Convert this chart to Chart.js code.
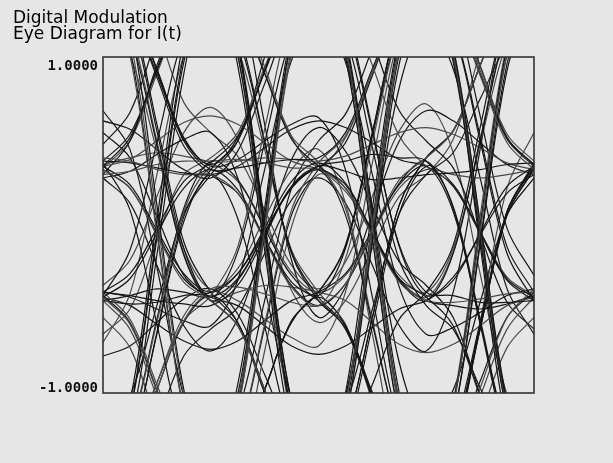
<!DOCTYPE html>
<html>
<head>
<meta charset="utf-8">
<script src="https://cdn.jsdelivr.net/npm/chart.js@4/dist/chart.umd.min.js"></script>
<style>
  html, body { margin: 0; padding: 0; background: #e6e6e6; }
  #wrap { width: 613px; height: 463px; }
</style>
</head>
<body>
<div id="wrap"><canvas id="c" width="613" height="463"></canvas></div>
<script>
// Time axis in symbol periods (quarter-symbol samples)
const symbolTime = [0,0.25,0.5,0.75,1,1.25,1.5,1.75,2,2.25,2.5,2.75,3,3.25,3.5,3.75,4];
const yTickValues = [1, -1];
const titleLines = ['Digital Modulation', 'Eye Diagram for I(t)'];

// I(t) traces
const tr01 = [1.45,1.01,-0.05,-1.11,-1.55,-1.10,-0.03,1.05,1.50,1.06,0.00,-1.06,-1.50,-1.07,-0.03,1.02,1.45];
const tr02 = [-1.50,-1.05,0.03,1.10,1.55,1.09,-0.03,-1.14,-1.60,-1.16,-0.10,0.96,1.40,0.97,-0.08,-1.12,-1.55];
const tr03 = [1.50,1.49,1.48,1.46,1.45,1.01,-0.05,-1.11,-1.55,-1.27,-0.60,0.07,0.35,0.24,-0.04,-0.32,-0.43];
const tr04 = [0.33,0.22,-0.06,-0.34,-0.45,-0.60,-0.98,-1.35,-1.50,-1.06,0.00,1.06,1.50,1.49,1.45,1.41,1.40];
const tr05 = [-0.40,-0.29,-0.02,0.26,0.37,0.53,0.91,1.29,1.45,1.00,-0.08,-1.15,-1.60,-1.59,-1.55,-1.51,-1.50];
const tr06 = [-1.55,-1.54,-1.50,-1.46,-1.45,-1.01,0.05,1.11,1.55,1.26,0.57,-0.13,-0.42,-0.31,-0.06,0.19,0.30];
const tr07 = [0.40,0.38,0.33,0.30,0.30,0.19,-0.09,-0.37,-0.48,-0.20,0.49,1.17,1.45,1.01,-0.05,-1.11,-1.55];
const tr08 = [1.40,1.13,0.48,-0.18,-0.45,-0.33,-0.05,0.23,0.35,0.38,0.42,0.40,0.38,0.11,-0.56,-1.23,-1.50];
const tr09 = [-1.60,-1.32,-0.64,0.05,0.33,0.50,0.92,1.33,1.50,1.22,0.55,-0.12,-0.40,-0.42,-0.46,-0.46,-0.45];
const tr10 = [-0.43,-0.59,-0.99,-1.39,-1.55,-1.27,-0.59,0.09,0.37,0.53,0.91,1.29,1.45,1.29,0.89,0.49,0.33];
const tr11 = [0.35,0.52,0.93,1.33,1.50,1.06,0.00,-1.06,-1.50,-1.34,-0.95,-0.56,-0.40,-0.12,0.58,1.27,1.55];
const tr12 = [1.45,1.28,0.88,0.47,0.30,0.19,-0.08,-0.34,-0.45,-0.62,-1.03,-1.43,-1.60,-1.16,-0.10,0.96,1.40];
const tr13 = [-1.50,-1.34,-0.94,-0.54,-0.38,-0.37,-0.41,-0.46,-0.48,-0.35,-0.04,0.27,0.40,0.56,0.95,1.34,1.50];
const tr14 = [-0.42,-0.15,0.49,1.13,1.40,1.42,1.48,1.53,1.55,1.10,0.03,-1.05,-1.50,-1.23,-0.58,0.08,0.35];
const tr15 = [0.37,0.09,-0.59,-1.27,-1.55,-1.38,-0.98,-0.57,-0.40,-0.13,0.53,1.18,1.45,1.17,0.50,-0.17,-0.45];
const tr16 = [1.55,1.11,0.05,-1.01,-1.45,-1.47,-1.53,-1.58,-1.60,-1.15,-0.05,1.05,1.50,1.34,0.94,0.54,0.38];
const tr17 = [-0.45,-0.47,-0.46,-0.42,-0.40,-0.29,-0.04,0.22,0.33,0.06,-0.59,-1.23,-1.50,-1.07,-0.03,1.02,1.45];
const tr18 = [-1.55,-1.11,-0.05,1.01,1.45,1.29,0.90,0.51,0.35,0.24,-0.04,-0.32,-0.43,-0.60,-1.02,-1.43,-1.60];
const tr19 = [0.30,0.32,0.36,0.38,0.38,0.39,0.37,0.34,0.33,0.22,-0.06,-0.34,-0.45,-0.46,-0.44,-0.41,-0.40];
const tr20 = [-0.40,-0.42,-0.45,-0.47,-0.48,-0.36,-0.07,0.23,0.35,0.32,0.27,0.28,0.30,0.31,0.33,0.36,0.37];
const tr21 = [1.50,1.33,0.92,0.50,0.33,0.34,0.37,0.39,0.40,0.55,0.93,1.30,1.45,1.02,-0.03,-1.07,-1.50];
const tr22 = [-1.45,-1.30,-0.94,-0.57,-0.42,-0.13,0.57,1.26,1.55,1.10,0.00,-1.10,-1.55,-1.38,-0.97,-0.55,-0.38];
const tr23 = [0.35,0.24,-0.03,-0.29,-0.40,-0.29,-0.02,0.26,0.37,0.25,-0.04,-0.33,-0.45,-0.17,0.50,1.17,1.45];
const tr24 = [-0.43,-0.32,-0.05,0.22,0.33,0.21,-0.08,-0.36,-0.48,-0.35,-0.05,0.25,0.38,0.10,-0.59,-1.27,-1.55];
const tr25 = [1.45,1.46,1.48,1.49,1.50,1.34,0.94,0.53,0.37,0.10,-0.57,-1.23,-1.50,-1.51,-1.53,-1.54,-1.55];
const tr26 = [-1.50,-1.51,-1.53,-1.54,-1.55,-1.38,-0.98,-0.57,-0.40,-0.12,0.55,1.22,1.50,1.49,1.48,1.46,1.45];
const tr27 = [0.38,0.54,0.92,1.29,1.45,1.17,0.50,-0.17,-0.45,-0.61,-1.00,-1.39,-1.55,-1.28,-0.61,0.06,0.33];
const tr28 = [-0.40,-0.56,-0.95,-1.34,-1.50,-1.05,0.03,1.10,1.55,1.37,0.95,0.53,0.35,0.24,-0.04,-0.31,-0.42];
const tr29 = [1.55,1.26,0.56,-0.14,-0.43,-0.16,0.49,1.13,1.40,1.13,0.46,-0.21,-0.48,-0.62,-0.97,-1.31,-1.45];
const tr30 = [-1.60,-1.32,-0.65,0.02,0.30,0.04,-0.60,-1.24,-1.50,-1.22,-0.55,0.12,0.40,0.56,0.95,1.34,1.50];
const tr31 = [0.35,0.39,0.50,0.61,0.65,0.60,0.49,0.38,0.33,0.22,-0.05,-0.32,-0.43,-0.16,0.51,1.18,1.45];
const tr32 = [-0.43,-0.48,-0.59,-0.69,-0.74,-0.69,-0.57,-0.45,-0.40,-0.29,-0.03,0.24,0.35,0.08,-0.58,-1.23,-1.50];
const tr33 = [0.38,0.37,0.34,0.31,0.30,0.35,0.46,0.57,0.62,0.58,0.49,0.39,0.35,0.23,-0.05,-0.33,-0.45];
const tr34 = [1.45,1.17,0.50,-0.17,-0.45,-0.40,-0.36,-0.37,-0.40,-0.45,-0.58,-0.71,-0.76,-0.71,-0.60,-0.48,-0.43];
const tr35 = [1.50,1.05,-0.03,-1.10,-1.55,-1.28,-0.61,0.06,0.33,0.49,0.89,1.29,1.45,1.18,0.53,-0.13,-0.40];
const tr36 = [-1.55,-1.12,-0.08,0.97,1.40,1.13,0.49,-0.16,-0.43,-0.60,-1.02,-1.43,-1.60,-1.31,-0.62,0.08,0.37];
const tr37 = [-1.50,-1.23,-0.58,0.08,0.35,0.38,0.40,0.39,0.38,0.41,0.48,0.55,0.58,0.54,0.46,0.37,0.33];
const tr38 = [0.33,0.22,-0.05,-0.32,-0.43,-0.48,-0.60,-0.72,-0.77,-0.72,-0.61,-0.50,-0.45,-0.33,-0.05,0.23,0.35];
const tr39 = [1.45,1.29,0.90,0.51,0.35,0.39,0.50,0.60,0.64,0.33,-0.43,-1.19,-1.50,-1.06,0.00,1.06,1.50];
const tr40 = [-1.55,-1.38,-0.98,-0.57,-0.40,-0.45,-0.56,-0.67,-0.72,-0.40,0.37,1.13,1.45,1.01,-0.05,-1.11,-1.55];
const tr41 = [1.60,1.20,0.12,-0.98,-1.45,-0.95,0.10,1.15,1.55,1.12,0.08,-1.00,-1.50,-1.15,-0.12,0.92,1.40];
const tr42 = [-1.45,-1.20,-0.18,0.90,1.50,0.95,-0.15,-1.22,-1.55,-1.00,0.10,1.12,1.50,1.00,-0.12,-1.20,-1.60];
const tr43 = [1.50,1.52,1.55,1.55,1.55,1.02,-0.10,-1.15,-1.55,-1.57,-1.58,-1.57,-1.55,-1.05,0.05,1.08,1.50];
const tr44 = [-1.55,-1.56,-1.56,-1.55,-1.55,-1.08,0.02,1.10,1.55,1.58,1.58,1.56,1.50,1.05,0.02,-1.05,-1.50];
const tr45 = [0.30,0.50,0.95,1.35,1.55,1.10,0.02,-1.05,-1.50,-1.05,0.02,1.10,1.55,1.35,0.95,0.52,0.36];
const tr46 = [-0.45,-0.62,-1.02,-1.40,-1.55,-1.10,-0.05,1.02,1.45,1.00,-0.08,-1.15,-1.60,-1.42,-1.02,-0.62,-0.43];
const tr47 = [1.60,1.30,0.60,-0.10,-0.40,-0.58,-0.98,-1.36,-1.50,-1.22,-0.55,0.12,0.40,0.56,0.95,1.33,1.50];
const tr48 = [-1.50,-1.22,-0.56,0.10,0.38,0.27,-0.02,-0.30,-0.42,-0.14,0.55,1.24,1.55,1.55,1.52,1.50,1.48];
const tr49 = [0.36,0.40,0.43,0.41,0.37,0.26,0.00,-0.28,-0.40,-0.30,-0.05,0.22,0.33,0.30,0.28,0.30,0.33];
const tr50 = [-0.45,-0.42,-0.38,-0.40,-0.43,-0.32,-0.05,0.22,0.33,0.22,-0.06,-0.33,-0.45,-0.48,-0.50,-0.47,-0.42];
const tr51 = [0.55,0.40,0.05,-0.30,-0.45,-0.60,-1.00,-1.38,-1.55,-1.55,-1.55,-1.55,-1.55,-1.28,-0.60,0.08,0.36];
const tr52 = [-0.65,-0.50,-0.08,0.30,0.40,0.55,0.94,1.32,1.50,1.50,1.50,1.50,1.50,1.32,0.92,0.52,0.35];
const tr53 = [1.50,1.33,0.93,0.52,0.36,0.52,0.92,1.33,1.50,1.06,0.00,-1.06,-1.50,-1.33,-0.93,-0.55,-0.40];
const tr54 = [-1.55,-1.38,-0.98,-0.58,-0.42,-0.58,-0.98,-1.38,-1.55,-1.10,-0.05,1.02,1.45,1.29,0.90,0.51,0.35];
const tr55 = [0.34,0.50,0.90,1.30,1.48,1.31,0.91,0.52,0.35,0.52,0.91,1.31,1.48,1.06,0.00,-1.08,-1.55];
const tr56 = [-0.42,-0.58,-0.98,-1.38,-1.55,-1.38,-0.98,-0.58,-0.43,-0.60,-1.00,-1.40,-1.58,-1.30,-0.62,0.06,0.34];
const tr57 = [0.68,0.45,-0.25,-1.02,-1.40,-1.12,-0.45,0.22,0.50,0.66,1.05,1.44,1.60,1.32,0.65,-0.02,-0.30];
const tr58 = [-0.70,-0.41,0.30,1.01,1.30,1.05,0.45,-0.15,-0.40,-0.59,-1.05,-1.51,-1.70,-1.37,-0.58,0.22,0.55];
const tr59 = [0.28,0.32,0.42,0.51,0.55,0.28,-0.38,-1.03,-1.30,-1.07,-0.50,0.07,0.30,0.43,0.75,1.07,1.20];
const tr60 = [-0.40,-0.43,-0.50,-0.57,-0.60,-0.33,0.33,0.98,1.25,0.97,0.30,-0.37,-0.65,-0.61,-0.52,-0.42,-0.38];
const tr61 = [1.25,1.01,0.44,-0.14,-0.38,-0.26,0.04,0.33,0.45,0.13,-0.65,-1.43,-1.75,-1.57,-1.15,-0.73,-0.55];
const tr62 = [-1.25,-1.02,-0.48,0.07,0.30,0.50,1.00,1.50,1.70,1.52,1.10,0.68,0.50,0.34,-0.06,-0.46,-0.62];
const tr63 = [0.48,0.67,1.12,1.56,1.75,1.41,0.60,-0.21,-0.55,-0.37,0.07,0.50,0.68,0.62,0.49,0.36,0.30];
const tr64 = [-0.55,-0.73,-1.18,-1.62,-1.80,-1.49,-0.75,-0.01,0.30,0.20,-0.05,-0.30,-0.40,-0.14,0.48,1.09,1.35];
const tr65 = [0.62,0.57,0.45,0.33,0.28,0.44,0.84,1.24,1.40,1.02,0.10,-0.82,-1.20,-0.98,-0.46,0.06,0.28];
const tr66 = [-0.78,-0.72,-0.58,-0.44,-0.38,-0.53,-0.89,-1.25,-1.40,-1.02,-0.10,0.82,1.20,0.93,0.28,-0.38,-0.65];
const tr67 = [1.80,1.62,1.18,0.73,0.55,0.41,0.09,-0.24,-0.38,-0.22,0.17,0.56,0.72,0.43,-0.29,-1.01,-1.30];
const tr68 = [-1.75,-1.59,-1.19,-0.78,-0.62,-0.49,-0.17,0.15,0.28,0.13,-0.24,-0.60,-0.75,-0.40,0.45,1.30,1.65];
const tr69 = [0.28,0.13,-0.24,-0.60,-0.75,-0.56,-0.09,0.39,0.58,0.44,0.11,-0.22,-0.36,-0.55,-1.01,-1.46,-1.65];
const tr70 = [-0.36,-0.21,0.17,0.55,0.70,0.51,0.06,-0.39,-0.58,-0.45,-0.14,0.17,0.30,0.51,1.03,1.54,1.75];

const traces = [tr01,tr02,tr03,tr04,tr05,tr06,tr07,tr08,tr09,tr10,tr11,tr12,tr13,tr14,tr15,tr16,tr17,tr18,tr19,tr20,
                tr21,tr22,tr23,tr24,tr25,tr26,tr27,tr28,tr29,tr30,tr31,tr32,tr33,tr34,tr35,tr36,tr37,tr38,tr39,tr40,
                tr41,tr42,tr43,tr44,tr45,tr46,tr47,tr48,tr49,tr50,tr51,tr52,tr53,tr54,tr55,tr56,tr57,tr58,tr59,tr60,
                tr61,tr62,tr63,tr64,tr65,tr66,tr67,tr68,tr69,tr70];

const BG = '#e6e6e6';

const bgPlugin = {
  id: 'bg',
  beforeDraw(chart) {
    const ctx = chart.ctx;
    ctx.save();
    ctx.fillStyle = BG;
    ctx.fillRect(0, 0, chart.width, chart.height);
    ctx.restore();
  },
  afterDraw(chart) {
    const ctx = chart.ctx;
    const a = chart.chartArea;
    const ys = chart.scales.y;
    ctx.save();
    ctx.strokeStyle = '#333333';
    ctx.lineWidth = 1.6;
    ctx.strokeRect(a.left, a.top, a.right - a.left, a.bottom - a.top);
    ctx.fillStyle = '#111';
    ctx.font = 'bold 14px "DejaVu Sans Mono"';
    ctx.textAlign = 'right';
    ctx.textBaseline = 'alphabetic';
    const topY = ys.getPixelForValue(yTickValues[0]);
    const botY = ys.getPixelForValue(yTickValues[1]);
    ctx.fillText(yTickValues[0].toFixed(4), a.left - 5, topY + 13);
    ctx.fillText(yTickValues[1].toFixed(4), a.left - 5, botY - 1);
    ctx.restore();
  }
};

new Chart(document.getElementById('c'), {
  type: 'line',
  data: {
    labels: symbolTime,
    datasets: traces.map((d, i) => ({
      data: d,
      borderColor: i % 3 === 0 ? '#4a4a4a' : '#151515',
      borderWidth: 1.2,
      pointRadius: 0,
      tension: 0.35,
      fill: false
    }))
  },
  options: {
    responsive: false,
    devicePixelRatio: 1,
    animation: false,
    layout: { padding: { left: 13, right: 79, top: 11, bottom: 70 } },
    plugins: {
      legend: { display: false },
      tooltip: { enabled: false },
      title: {
        display: true,
        text: titleLines,
        align: 'start',
        color: '#000',
        font: { family: '"DejaVu Sans"', size: 17, weight: 'normal', lineHeight: 16 / 17 },
        padding: { top: 0, bottom: 14 }
      }
    },
    scales: {
      x: { type: 'category', display: false },
      y: {
        min: -1, max: 1,
        display: true,
        ticks: { display: false },
        grid: { display: false },
        border: { display: false },
        afterFit(scale) { scale.width = 90; }
      }
    }
  },
  plugins: [bgPlugin]
});
</script>
</body>
</html>
